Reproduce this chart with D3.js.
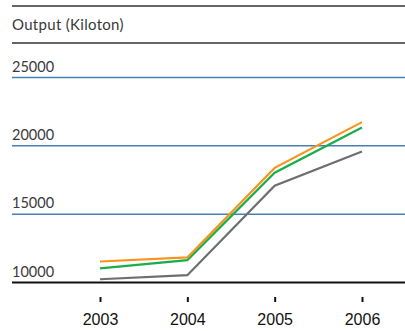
<!DOCTYPE html>
<html>
<head>
<meta charset="utf-8">
<script src="https://cdn.jsdelivr.net/npm/d3@7"></script>
<style>
  html, body { margin: 0; padding: 0; background: #fff; }
  svg { display: block; }
</style>
</head>
<body>
<svg id="chart" width="405" height="331"></svg>
<script>
// Output (kilotons) per year, three series
const years = ["2003", "2004", "2005", "2006"];
const orangeSeries = [11500, 11800, 18350, 21700];
const greenSeries = [11000, 11600, 18000, 21300];
const graySeries = [10200, 10500, 17050, 19550];
const yTicks = [10000, 15000, 20000, 25000];
const seriesColors = ["#6d6e71", "#19ad4b", "#f7941d"];

const svg = d3.select("#chart");
const left = 12, right = 405;

const x = d3.scalePoint().domain(years).range([100, 362]);
const y = d3.scaleLinear().domain([10000, 25000]).range([282, 77]);

// header rules and unit title
svg.append("line").attr("x1", left).attr("x2", right).attr("y1", 6).attr("y2", 6)
  .attr("stroke", "#333").attr("stroke-width", 1.5);
svg.append("line").attr("x1", left).attr("x2", right).attr("y1", 43).attr("y2", 43)
  .attr("stroke", "#333").attr("stroke-width", 1.5);
svg.append("text").attr("x", left).attr("y", 30)
  .attr("font-family", "Lato, 'Open Sans', sans-serif").attr("font-size", 15)
  .attr("letter-spacing", 0.3)
  .attr("fill", "#3a3a3a").text("Output (Kiloton)");

// horizontal gridlines with labels sitting above them
const yAxis = svg.append("g").attr("transform", `translate(${left},0)`)
  .call(d3.axisRight(y).tickValues(yTicks).tickSize(right - left).tickFormat(d3.format("d")));
yAxis.select(".domain").remove();
yAxis.selectAll(".tick line")
  .attr("stroke", d => d === 10000 ? "#111" : "#4a7fb5")
  .attr("stroke-width", d => d === 10000 ? 2 : 1.5);
yAxis.selectAll(".tick text")
  .attr("x", 0).attr("dy", -6).attr("text-anchor", "start")
  .attr("font-family", "Lato, 'Open Sans', sans-serif").attr("font-size", 14.5)
  .attr("fill", "#3a3a3a");

// year axis with short ticks
const xAxis = svg.append("g").attr("transform", "translate(0,297)")
  .call(d3.axisBottom(x).tickSize(5).tickPadding(12));
xAxis.select(".domain").remove();
xAxis.selectAll(".tick line").attr("stroke", "#111").attr("stroke-width", 2);
xAxis.selectAll(".tick text")
  .attr("font-family", "'Liberation Sans', Arial, sans-serif").attr("font-size", 16)
  .attr("fill", "#111");

// series lines
const line = d3.line().x((d, i) => x(years[i])).y(d => y(d));
[graySeries, greenSeries, orangeSeries].forEach((s, i) => {
  svg.append("path").datum(s).attr("d", line)
    .attr("fill", "none").attr("stroke", seriesColors[i])
    .attr("stroke-width", 2.2).attr("stroke-linejoin", "miter");
});
</script>
</body>
</html>
